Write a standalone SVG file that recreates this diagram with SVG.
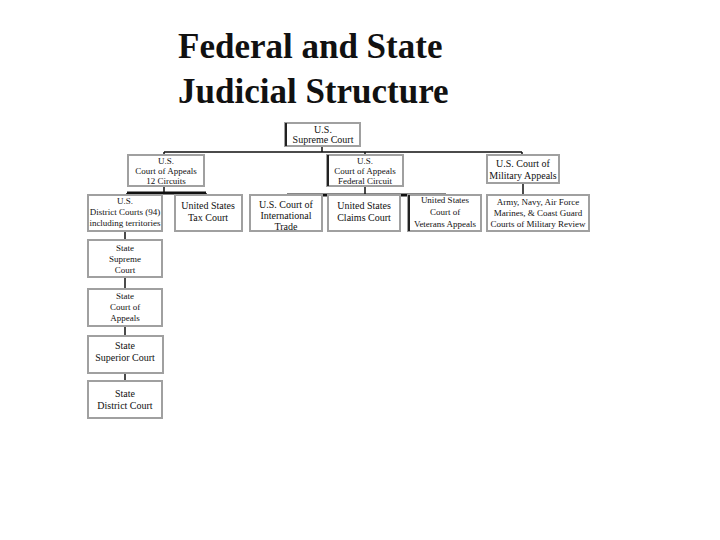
<svg xmlns="http://www.w3.org/2000/svg" width="720" height="540" viewBox="0 0 720 540">
<style>
.b{fill:#fff;stroke:#a0a0a0;stroke-width:2}
.e{stroke:#222;stroke-width:2}
.t{font-family:"Liberation Serif",serif;font-size:10px;fill:#111;text-anchor:middle}
.s{font-size:9px}
.h{font-family:"Liberation Serif",serif;font-size:35px;font-weight:bold;fill:#111}
.c{stroke:#111;stroke-width:1.5;fill:none}
.k{stroke:#111;stroke-width:3;fill:none}
</style>
<rect width="720" height="540" fill="#fff"/>
<text class="h" x="178" y="58">Federal and State</text>
<text class="h" x="178" y="103">Judicial Structure</text>
<g id="connectors">
<path class="c" d="M322 146V152M164 152H522M164 152V155M365 152V155M522 152V155"/>
<path class="k" d="M127 193H206"/>
<path class="c" d="M164 186V193M127 193V196M206 193V196"/>
<path class="k" d="M287 195H446"/>
<path class="c" d="M365 186V195M287 195V196M364 195V196M446 195V196"/>
<path class="c" d="M523 183V195"/>
<path class="c" d="M125 231V240M125 277V289M125 326V336M125 373V381"/>
</g>
<g id="supreme"><rect class="b" x="285" y="123" width="75" height="23"/><path class="e" d="M286 123V146"/><text class="t" x="323" y="133">U.S.</text><text class="t" x="323" y="143">Supreme Court</text></g>
<g id="appeals12"><rect class="b" x="128" y="155" width="76" height="31"/><text class="t s" x="166" y="164">U.S.</text><text class="t s" x="166" y="174">Court of Appeals</text><text class="t s" x="166" y="184">12 Circuits</text></g>
<g id="appealsfed"><rect class="b" x="327" y="155" width="76" height="31"/><path class="e" d="M328 155V186"/><text class="t s" x="365" y="164">U.S.</text><text class="t s" x="365" y="174">Court of Appeals</text><text class="t s" x="365" y="184">Federal Circuit</text></g>
<g id="military"><rect class="b" x="487" y="155" width="72" height="28"/><text class="t" x="523" y="167">U.S. Court of</text><text class="t" x="523" y="179">Military Appeals</text></g>
<g id="district"><rect class="b" x="88" y="195" width="74" height="36"/><text class="t s" x="125" y="204">U.S.</text><text class="t s" x="125" y="215">District Courts (94)</text><text class="t s" x="125" y="226">including territories</text></g>
<g id="tax"><rect class="b" x="175" y="195" width="67" height="36"/><text class="t" x="208" y="209">United States</text><text class="t" x="208" y="221">Tax Court</text></g>
<g id="cit"><rect class="b" x="250" y="195" width="72" height="36"/><text class="t" x="286" y="208">U.S. Court of</text><text class="t" x="286" y="219">International</text><text class="t" x="286" y="230">Trade</text></g>
<g id="claims"><rect class="b" x="328" y="195" width="72" height="36"/><text class="t" x="364" y="209">United States</text><text class="t" x="364" y="221">Claims Court</text></g>
<g id="veterans"><rect class="b" x="408" y="195" width="73" height="36"/><path class="e" d="M409 195V231"/><text class="t s" x="445" y="203">United States</text><text class="t s" x="445" y="215">Court of</text><text class="t s" x="445" y="227">Veterans Appeals</text></g>
<g id="review"><rect class="b" x="487" y="195" width="102" height="36"/><text class="t s" x="538" y="205">Army, Navy, Air Force</text><text class="t s" x="538" y="216">Marines, &amp; Coast Guard</text><text class="t s" x="538" y="227">Courts of Military Review</text></g>
<g id="statesupreme"><rect class="b" x="88" y="240" width="74" height="37"/><text class="t s" x="125" y="251">State</text><text class="t s" x="125" y="262">Supreme</text><text class="t s" x="125" y="273">Court</text></g>
<g id="stateappeals"><rect class="b" x="88" y="289" width="74" height="37"/><text class="t s" x="125" y="299">State</text><text class="t s" x="125" y="310">Court of</text><text class="t s" x="125" y="321">Appeals</text></g>
<g id="statesuperior"><rect class="b" x="88" y="336" width="75" height="37"/><text class="t" x="125" y="349">State</text><text class="t" x="125" y="361">Superior Court</text></g>
<g id="statedistrict"><rect class="b" x="88" y="381" width="74" height="37"/><text class="t" x="125" y="397">State</text><text class="t" x="125" y="409">District Court</text></g>
</svg>
